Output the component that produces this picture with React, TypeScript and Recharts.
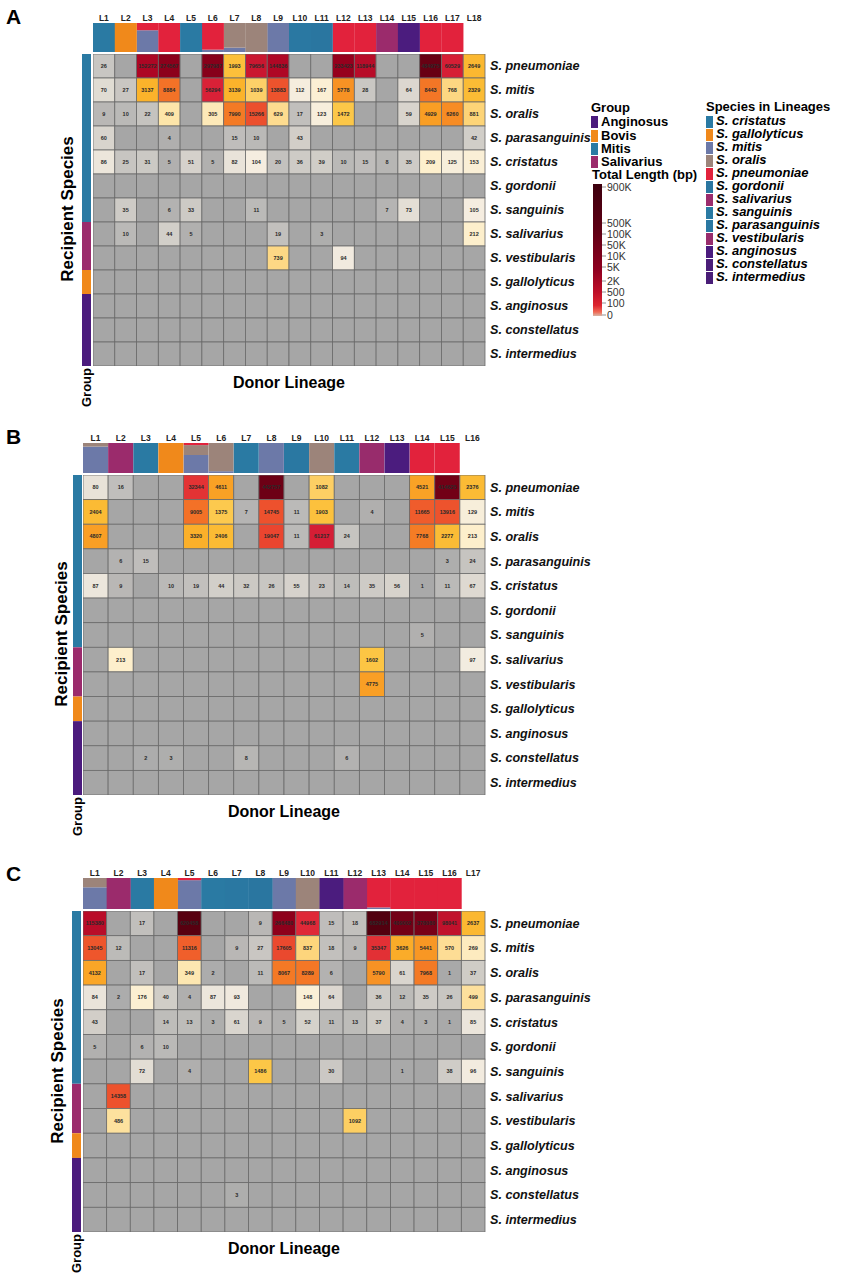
import React from "react";
import { ScatterChart, Scatter, XAxis, YAxis, BarChart, Bar } from "recharts";

const FONT = '"Liberation Sans", Arial, Helvetica, sans-serif';

// recipient species (rows, top to bottom) and their group
const RECIPIENTS = [
  "S. pneumoniae", "S. mitis", "S. oralis", "S. parasanguinis", "S. cristatus",
  "S. gordonii", "S. sanguinis", "S. salivarius", "S. vestibularis",
  "S. gallolyticus", "S. anginosus", "S. constellatus", "S. intermedius",
];
const RECIPIENT_GROUPS = [
  "Mitis", "Mitis", "Mitis", "Mitis", "Mitis", "Mitis", "Mitis",
  "Salivarius", "Salivarius", "Bovis", "Anginosus", "Anginosus", "Anginosus",
];

const GROUP_NAMES = ["Anginosus", "Bovis", "Mitis", "Salivarius"];
const GROUP_BAR_ORDER = ["Mitis", "Salivarius", "Bovis", "Anginosus"];
const GROUP_COLORS: Record<string, string> = {
  Anginosus: "#4b1b7d",
  Bovis: "#f0891b",
  Mitis: "#2a7aa3",
  Salivarius: "#9b2b6c",
};

// legend order for species in lineages
const LINEAGE_SPECIES = [
  "cristatus", "gallolyticus", "mitis", "oralis", "pneumoniae", "gordonii",
  "salivarius", "sanguinis", "parasanguinis", "vestibularis", "anginosus",
  "constellatus", "intermedius",
];
// stacking order of the lineage bars (first = bottom)
const STACK_ORDER = [
  "mitis", "oralis", "pneumoniae", "cristatus", "gallolyticus", "gordonii",
  "sanguinis", "parasanguinis", "salivarius", "vestibularis", "anginosus",
  "constellatus", "intermedius",
];
const SPECIES_COLORS: Record<string, string> = {
  cristatus: "#2a7aa3",
  gallolyticus: "#f0891b",
  mitis: "#6c79a8",
  oralis: "#9c847a",
  pneumoniae: "#e2223c",
  gordonii: "#2a76a0",
  salivarius: "#9b2b6c",
  sanguinis: "#2a7aa3",
  parasanguinis: "#2a78a2",
  vestibularis: "#982c6c",
  anginosus: "#4b1c7e",
  constellatus: "#4a1d78",
  intermedius: "#491d77",
};

// ---------- panel A ----------
const A_LINEAGES = ["L1", "L2", "L3", "L4", "L5", "L6", "L7", "L8", "L9", "L10", "L11", "L12", "L13", "L14", "L15", "L16", "L17", "L18"];
const A_MIX = [
  { cristatus: 1 }, { gallolyticus: 1 }, { mitis: 0.75, pneumoniae: 0.25 }, { pneumoniae: 1 },
  { sanguinis: 1 }, { mitis: 0.08, pneumoniae: 0.92 }, { mitis: 0.15, oralis: 0.85 }, { oralis: 1 },
  { mitis: 1 }, { parasanguinis: 1 }, { gordonii: 1 }, { pneumoniae: 1 }, { pneumoniae: 1 },
  { salivarius: 1 }, { anginosus: 1 }, { pneumoniae: 1 }, { pneumoniae: 1 }, {},
];
const A_VALUES = [
  [26, 0, 152272, 274567, 0, 297987, 1993, 79656, 144836, 0, 0, 233423, 118944, 0, 0, 484975, 60529, 2649],
  [70, 27, 3137, 8884, 0, 56294, 3139, 1039, 13883, 112, 167, 5778, 28, 0, 64, 8443, 768, 2329],
  [9, 10, 22, 409, 0, 305, 7990, 15266, 629, 17, 123, 1472, 0, 0, 59, 4929, 6260, 881],
  [60, 0, 0, 4, 0, 0, 15, 10, 0, 43, 0, 0, 0, 0, 0, 0, 0, 42],
  [86, 25, 31, 5, 51, 5, 82, 104, 20, 36, 39, 10, 15, 8, 35, 209, 125, 153],
  [0, 0, 0, 0, 0, 0, 0, 0, 0, 0, 0, 0, 0, 0, 0, 0, 0, 0],
  [0, 35, 0, 6, 33, 0, 0, 11, 0, 0, 0, 0, 0, 7, 73, 0, 0, 105],
  [0, 10, 0, 44, 5, 0, 0, 0, 19, 0, 3, 0, 0, 0, 0, 0, 0, 212],
  [0, 0, 0, 0, 0, 0, 0, 0, 739, 0, 0, 94, 0, 0, 0, 0, 0, 0],
  [0, 0, 0, 0, 0, 0, 0, 0, 0, 0, 0, 0, 0, 0, 0, 0, 0, 0],
  [0, 0, 0, 0, 0, 0, 0, 0, 0, 0, 0, 0, 0, 0, 0, 0, 0, 0],
  [0, 0, 0, 0, 0, 0, 0, 0, 0, 0, 0, 0, 0, 0, 0, 0, 0, 0],
  [0, 0, 0, 0, 0, 0, 0, 0, 0, 0, 0, 0, 0, 0, 0, 0, 0, 0],
];

// ---------- panel B ----------
const B_LINEAGES = ["L1", "L2", "L3", "L4", "L5", "L6", "L7", "L8", "L9", "L10", "L11", "L12", "L13", "L14", "L15", "L16"];
const B_MIX = [
  { mitis: 0.88, oralis: 0.12 }, { salivarius: 1 }, { cristatus: 1 }, { gallolyticus: 1 },
  { mitis: 0.6, oralis: 0.33, pneumoniae: 0.07 }, { mitis: 0.06, oralis: 0.94 }, { sanguinis: 1 },
  { mitis: 1 }, { parasanguinis: 1 }, { oralis: 1 }, { cristatus: 1 }, { vestibularis: 1 },
  { anginosus: 1 }, { pneumoniae: 1 }, { pneumoniae: 1 }, {},
];
const B_VALUES = [
  [80, 16, 0, 0, 32344, 4611, 0, 442757, 0, 1082, 0, 0, 0, 4521, 414625, 2376],
  [2404, 0, 0, 0, 9005, 1375, 7, 14745, 11, 1903, 0, 4, 0, 11665, 13916, 129],
  [4807, 0, 0, 0, 3320, 2406, 0, 19047, 11, 61217, 24, 0, 0, 7768, 2277, 213],
  [0, 6, 15, 0, 0, 0, 0, 0, 0, 0, 0, 0, 0, 0, 3, 24],
  [87, 9, 0, 10, 19, 44, 32, 26, 55, 23, 14, 35, 56, 1, 11, 67],
  [0, 0, 0, 0, 0, 0, 0, 0, 0, 0, 0, 0, 0, 0, 0, 0],
  [0, 0, 0, 0, 0, 0, 0, 0, 0, 0, 0, 0, 0, 5, 0, 0],
  [0, 213, 0, 0, 0, 0, 0, 0, 0, 0, 0, 1602, 0, 0, 0, 97],
  [0, 0, 0, 0, 0, 0, 0, 0, 0, 0, 0, 4775, 0, 0, 0, 0],
  [0, 0, 0, 0, 0, 0, 0, 0, 0, 0, 0, 0, 0, 0, 0, 0],
  [0, 0, 0, 0, 0, 0, 0, 0, 0, 0, 0, 0, 0, 0, 0, 0],
  [0, 0, 2, 3, 0, 0, 8, 0, 0, 0, 6, 0, 0, 0, 0, 0],
  [0, 0, 0, 0, 0, 0, 0, 0, 0, 0, 0, 0, 0, 0, 0, 0],
];

// ---------- panel C ----------
const C_LINEAGES = ["L1", "L2", "L3", "L4", "L5", "L6", "L7", "L8", "L9", "L10", "L11", "L12", "L13", "L14", "L15", "L16", "L17"];
const C_MIX = [
  { mitis: 0.7, oralis: 0.3 }, { salivarius: 1 }, { cristatus: 1 }, { gallolyticus: 1 },
  { mitis: 0.93, pneumoniae: 0.07 }, { sanguinis: 1 }, { parasanguinis: 1 }, { gordonii: 1 },
  { mitis: 1 }, { oralis: 1 }, { anginosus: 1 }, { salivarius: 1 },
  { mitis: 0.05, pneumoniae: 0.95 }, { pneumoniae: 1 }, { pneumoniae: 1 }, { pneumoniae: 1 }, {},
];
const C_VALUES = [
  [115380, 0, 17, 0, 620458, 0, 0, 9, 266480, 44968, 15, 18, 682914, 409002, 378080, 98041, 2637],
  [13045, 12, 0, 0, 11316, 0, 9, 27, 17605, 837, 18, 9, 35347, 3626, 5441, 570, 269],
  [4132, 0, 17, 0, 349, 2, 0, 11, 8067, 8289, 6, 0, 5790, 61, 7968, 1, 37],
  [84, 2, 176, 40, 4, 87, 93, 0, 0, 148, 64, 0, 36, 12, 35, 26, 499],
  [43, 0, 0, 14, 13, 3, 61, 9, 5, 52, 11, 13, 37, 4, 3, 1, 85],
  [5, 0, 6, 10, 0, 0, 0, 0, 0, 0, 0, 0, 0, 0, 0, 0, 0],
  [0, 0, 72, 0, 4, 0, 0, 1486, 0, 0, 30, 0, 0, 1, 0, 38, 96],
  [0, 14358, 0, 0, 0, 0, 0, 0, 0, 0, 0, 0, 0, 0, 0, 0, 0],
  [0, 486, 0, 0, 0, 0, 0, 0, 0, 0, 0, 1092, 0, 0, 0, 0, 0],
  [0, 0, 0, 0, 0, 0, 0, 0, 0, 0, 0, 0, 0, 0, 0, 0, 0],
  [0, 0, 0, 0, 0, 0, 0, 0, 0, 0, 0, 0, 0, 0, 0, 0, 0],
  [0, 0, 0, 0, 0, 0, 3, 0, 0, 0, 0, 0, 0, 0, 0, 0, 0],
  [0, 0, 0, 0, 0, 0, 0, 0, 0, 0, 0, 0, 0, 0, 0, 0, 0],
];

// colour bar legend
const COLORBAR_LABELS = ["900K", "500K", "100K", "50K", "10K", "5K", "2K", "500", "100", "0"];
const COLORBAR_LABEL_Y = [187, 223, 234, 245, 256, 267, 281, 292, 303, 315];

// colour ramp in log space
const RAMP: [number, string][] = [
  [1, "#a9a9a9"], [5, "#b1b0af"], [20, "#c3c1be"], [60, "#d8d4cd"], [100, "#f4ede1"],
  [200, "#fdf0cf"], [400, "#fde5aa"], [800, "#fdd680"], [1500, "#fcc746"], [3000, "#fbb52c"],
  [5000, "#f99d24"], [8000, "#f47a25"], [12000, "#ef5a2c"], [20000, "#e9432f"],
  [50000, "#de2439"], [100000, "#c0102c"], [200000, "#a0001f"], [400000, "#740016"], [900000, "#40000b"],
];

function hex(c: string) {
  return [1, 3, 5].map((i) => parseInt(c.slice(i, i + 2), 16));
}

function heatColor(v: number) {
  if (!v) return "#a6a6a6";
  const lv = Math.log10(v);
  if (v <= RAMP[0][0]) return RAMP[0][1];
  for (let i = 1; i < RAMP.length; i++) {
    if (v <= RAMP[i][0]) {
      const a = Math.log10(RAMP[i - 1][0]);
      const b = Math.log10(RAMP[i][0]);
      const t = (lv - a) / (b - a);
      const c1 = hex(RAMP[i - 1][1]);
      const c2 = hex(RAMP[i][1]);
      const m = c1.map((x, k) => Math.round(x + (c2[k] - x) * t));
      return `rgb(${m[0]},${m[1]},${m[2]})`;
    }
  }
  return RAMP[RAMP.length - 1][1];
}

const RowTick = (props: any) => {
  const { x, y, payload } = props;
  return (
    <text x={x} y={y} dy="0.35em" textAnchor="start" fontFamily={FONT} fontSize={12.6}
      fontWeight="bold" fontStyle="italic" fill="#111">
      {RECIPIENTS[Math.floor(payload.value)]}
    </text>
  );
};

interface PanelProps {
  letter: string;
  letterY: number;
  lineages: string[];
  mix: Record<string, number>[];
  values: number[][];
  left: number;
  top: number;
  right: number;
  bottom: number;
  barTop: number;
  groupLeft: number;
  ylabelX: number;
}

function Panel({ letter, letterY, lineages, mix, values, left, top, right, bottom, barTop, groupLeft, ylabelX }: PanelProps) {
  const nCols = lineages.length;
  const nRows = RECIPIENTS.length;
  const w = right - left;
  const h = bottom - top;
  const cw = w / nCols;
  const ch = h / nRows;

  const cells: { x: number; y: number; v: number }[] = [];
  values.forEach((row, r) => row.forEach((v, c) => cells.push({ x: c + 0.5, y: r + 0.5, v })));

  const cellShape = (p: any) => {
    const { cx, cy, payload } = p;
    return (
      <g>
        <rect x={cx - cw / 2} y={cy - ch / 2} width={cw} height={ch} fill={heatColor(payload.v)}
          stroke="#6a6a6a" strokeWidth={0.8} />
        {payload.v > 0 && (
          <text x={cx} y={cy} dy="0.35em" textAnchor="middle" fontFamily={FONT} fontSize={5.5}
            fontWeight="bold" fill="#2a2a2a">
            {payload.v}
          </text>
        )}
      </g>
    );
  };

  const barData = lineages.map((l, i) => ({ name: l, ...mix[i] }));
  const groupData = [
    GROUP_BAR_ORDER.reduce((acc: Record<string, any>, g) => {
      acc[g] = RECIPIENT_GROUPS.filter((x) => x === g).length;
      return acc;
    }, { name: "g" }),
  ];

  const barChartTop = barTop - 16;
  const barChartH = top - 2 - barChartTop;

  return (
    <>
      <div style={{ position: "absolute", left: 6, top: letterY - 13, fontFamily: FONT, fontWeight: "bold", fontSize: 21 }}>
        {letter}
      </div>

      {/* lineage composition bars */}
      <div style={{ position: "absolute", left, top: barChartTop }}>
        <BarChart width={w} height={barChartH} data={barData} barCategoryGap={0} barGap={0}
          margin={{ top: 2, right: 0, bottom: 0, left: 0 }}>
          <XAxis dataKey="name" orientation="top" height={14} axisLine={false} tickLine={false}
            tickSize={0} tickMargin={2} interval={0}
            tick={{ fontFamily: FONT, fontSize: 8.5, fontWeight: "bold", fill: "#222" }} />
          <YAxis hide domain={[0, 1]} />
          {STACK_ORDER.map((s) => (
            <Bar key={s} dataKey={s} stackId="mix" fill={SPECIES_COLORS[s]} isAnimationActive={false} />
          ))}
        </BarChart>
      </div>

      {/* group annotation */}
      <div style={{ position: "absolute", left: groupLeft, top }}>
        <BarChart width={9} height={h} data={groupData} barCategoryGap={0}
          margin={{ top: 0, right: 0, bottom: 0, left: 0 }}>
          <XAxis dataKey="name" hide />
          <YAxis hide type="number" domain={[0, nRows]} reversed />
          {GROUP_BAR_ORDER.map((g) => (
            <Bar key={g} dataKey={g} stackId="grp" fill={GROUP_COLORS[g]} isAnimationActive={false} />
          ))}
        </BarChart>
      </div>

      {/* heatmap */}
      <div style={{ position: "absolute", left, top }}>
        <ScatterChart width={w + 130} height={h} margin={{ top: 0, right: 0, bottom: 0, left: 0 }}>
          <XAxis type="number" dataKey="x" domain={[0, nCols]} hide />
          <YAxis type="number" dataKey="y" domain={[0, nRows]} reversed orientation="right" width={130}
            ticks={RECIPIENTS.map((_, i) => i + 0.5)} interval={0} axisLine={false} tickLine={false}
            tickSize={0} tickMargin={5} tick={<RowTick />} />
          <Scatter data={cells} shape={cellShape} isAnimationActive={false} />
        </ScatterChart>
      </div>

      <div style={{ position: "absolute", left: ylabelX - 100, top: (top + bottom) / 2 - 11, width: 200,
        textAlign: "center", transform: "rotate(-90deg)", fontFamily: FONT, fontWeight: "bold", fontSize: 17 }}>
        Recipient Species
      </div>
      <div style={{ position: "absolute", left: groupLeft + 4 - 30, top: bottom + 22 - 8, width: 60,
        textAlign: "center", transform: "rotate(-90deg)", fontFamily: FONT, fontWeight: "bold", fontSize: 13 }}>
        Group
      </div>
      <div style={{ position: "absolute", left, width: w, top: bottom + 8, textAlign: "center",
        fontFamily: FONT, fontWeight: "bold", fontSize: 16 }}>
        Donor Lineage
      </div>
    </>
  );
}

function Legends() {
  const sw = { width: 7, height: 12, display: "inline-block", marginRight: 3, verticalAlign: "top", marginTop: 1 };
  return (
    <>
      <div style={{ position: "absolute", left: 591, top: 101, fontFamily: FONT, fontWeight: "bold", fontSize: 13, lineHeight: "13.3px" }}>
        <div style={{ marginBottom: 1 }}>Group</div>
        {GROUP_NAMES.map((g) => (
          <div key={g}><span style={{ ...sw, background: GROUP_COLORS[g] }} />{g}</div>
        ))}
      </div>
      <div style={{ position: "absolute", left: 706, top: 101, fontFamily: FONT, fontWeight: "bold", fontSize: 13, lineHeight: "12.8px" }}>
        <div style={{ marginBottom: 1.5 }}>Species in Lineages</div>
        {LINEAGE_SPECIES.map((s) => (
          <div key={s} style={{ fontStyle: "italic" }}><span style={{ ...sw, background: SPECIES_COLORS[s] }} />S. {s}</div>
        ))}
      </div>
      <div style={{ position: "absolute", left: 592, top: 167, fontFamily: FONT, fontWeight: "bold", fontSize: 13 }}>
        Total Length (bp)
      </div>
      <svg style={{ position: "absolute", left: 0, top: 0 }} width={843} height={330}>
        <defs>
          <linearGradient id="lenGrad" x1="0" y1="0" x2="0" y2="1">
            <stop offset="0%" stopColor="#3d000e" />
            <stop offset="35%" stopColor="#5e0014" />
            <stop offset="65%" stopColor="#8f0020" />
            <stop offset="82%" stopColor="#bf0f28" />
            <stop offset="92%" stopColor="#dd2630" />
            <stop offset="97%" stopColor="#f06a55" />
            <stop offset="100%" stopColor="#d8b6a6" />
          </linearGradient>
        </defs>
        <rect x={593} y={184} width={9} height={132} fill="url(#lenGrad)" />
        {COLORBAR_LABELS.map((l, i) => (
          <g key={l}>
            <line x1={602} x2={606} y1={COLORBAR_LABEL_Y[i]} y2={COLORBAR_LABEL_Y[i]} stroke="#777" strokeWidth={0.8} />
            <text x={607} y={COLORBAR_LABEL_Y[i]} dy="0.35em" fontFamily={FONT} fontSize={10.5} fill="#333">{l}</text>
          </g>
        ))}
      </svg>
    </>
  );
}

export default function App() {
  return (
    <div style={{ position: "absolute", left: 0, top: 0, width: 843, height: 1280, background: "#fff" }}>
      <Panel letter="A" letterY={18} lineages={A_LINEAGES} mix={A_MIX} values={A_VALUES}
        left={93} top={54} right={485} bottom={366} barTop={23} groupLeft={82} ylabelX={68} />
      <Panel letter="B" letterY={438} lineages={B_LINEAGES} mix={B_MIX} values={B_VALUES}
        left={83} top={475} right={485} bottom={795} barTop={443} groupLeft={73} ylabelX={62} />
      <Panel letter="C" letterY={875} lineages={C_LINEAGES} mix={C_MIX} values={C_VALUES}
        left={83} top={911} right={485} bottom={1232} barTop={878} groupLeft={72} ylabelX={58} />
      <Legends />
    </div>
  );
}
